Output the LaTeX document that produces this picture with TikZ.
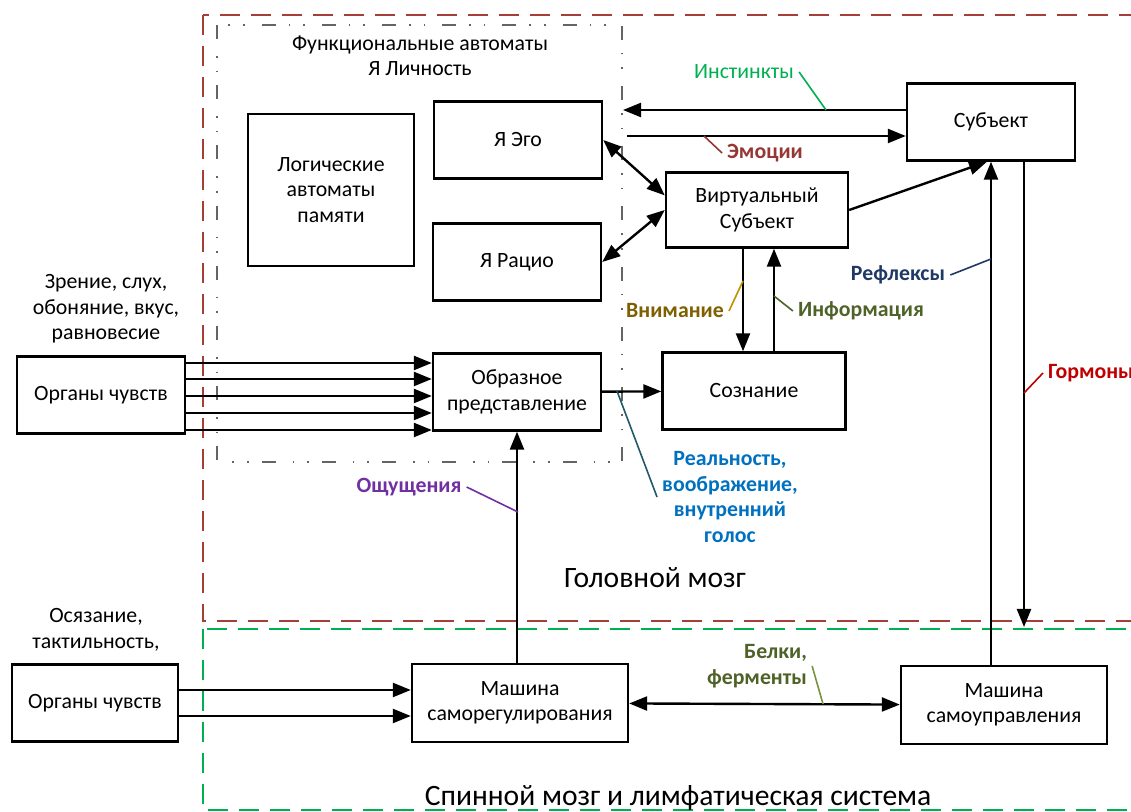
\documentclass[tikz,border=0pt]{standalone}
\usepackage{fontspec}
\setmainfont{Carlito}
\usetikzlibrary{arrows.meta}

\definecolor{brainred}{RGB}{166,62,56}
\definecolor{spinegreen}{RGB}{0,176,80}
\definecolor{autogray}{RGB}{100,100,100}
\definecolor{instcol}{RGB}{0,176,80}
\definecolor{emocol}{RGB}{149,55,53}
\definecolor{vnimcol}{RGB}{127,96,0}
\definecolor{vnimline}{RGB}{191,144,0}
\definecolor{infocol}{RGB}{79,98,40}
\definecolor{reflcol}{RGB}{31,56,100}
\definecolor{gormcol}{RGB}{192,0,0}
\definecolor{realcol}{RGB}{0,112,192}
\definecolor{realline}{RGB}{33,89,103}
\definecolor{oshcol}{RGB}{112,48,160}
\definecolor{belkline}{RGB}{119,147,60}

\begin{document}
\begin{tikzpicture}[x=0.5pt,y=-0.5pt,->,>={Triangle[length=9pt,width=7pt]},
	line width=1.2pt,
	main node/.style={rectangle,draw,align=center,minimum width=84pt,minimum height=38.5pt,
		font=\fontsize{10.9}{12.75}\selectfont},
	text node/.style={align=center,font=\fontsize{10.9}{12.75}\selectfont},
	label node/.style={align=center,inner sep=2pt,font=\fontsize{10.9}{12.75}\selectfont\bfseries},
	big node/.style={font=\fontsize{14.8}{17}\selectfont},
	lead/.style={-,line width=0.8pt}]
	
	\useasboundingbox (0,0) rectangle (1131,812);
	
	% frames
	\draw[-,brainred,line width=1.3pt,dash pattern=on 10pt off 5.5pt] (203,15) rectangle (1150,621);
	\draw[-,spinegreen,line width=1.3pt,dash pattern=on 10pt off 5.5pt] (203,629) rectangle (1150,810);
	\draw[-,autogray,line width=1pt,dash pattern=on 7pt off 8.5pt on 0.8pt off 6.5pt on 0.8pt off 6.5pt] (217,25) rectangle (622,462);
	
	\node[main node,minimum width=83pt,minimum height=76pt] (1) at (331,190) {Логические\\автоматы\\памяти};
	\node[main node] (2) at (518,140) {Я Эго};
	\node[main node] (3) at (517,262) {Я Рацио};
	\node[main node] (4) at (517,392) {Образное\\представление};
	\node[main node,minimum width=91pt,minimum height=37.5pt] (5) at (757,210) {Виртуальный\\Субъект};
	\node[main node,minimum width=91.5pt] (6) at (754,391) {Сознание};
	\node[main node] (7) at (991,122) {Субъект};
	\node[main node] (8) at (101,395) {Органы чувств};
	\node[main node,minimum width=83pt] (9) at (95,703) {Органы чувств};
	\node[main node,minimum width=108pt,minimum height=39pt] (10) at (520,703) {Машина\\саморегулирования};
	\node[main node,minimum width=103pt,minimum height=39pt] (11) at (1004,705) {Машина\\самоуправления};
	
	\node[text node] (t1) at (420,56) {Функциональные автоматы\\Я Личность};
	\node[text node] (t2) at (106,309) {Зрение, слух,\\обоняние, вкус,\\равновесие};
	\node[text node] (t3) at (96,630) {Осязание,\\тактильность,};
	\node[big node] (t4) at (655,578) {Головной мозг};
	\node[big node] (t5) at (678,798) {Спинной мозг и лимфатическая система};
	
	\coordinate (inst) at (623,110);
	\coordinate (emo) at (627,136);
	\coordinate (gorm) at (1024,627);
	
	\draw (inst -| 7.west) -- (inst);
	\draw (emo) -- (emo -| 7.west);
	\draw[<->] (2.east) -- (5.171);
	\draw[<->] (3.east) -- (5.west);
	\draw (5.east) -- ([xshift=-2pt]7.south);
	\draw ([xshift=-7pt]5.south) -- ([xshift=-7pt]5.south |- 6.north);
	\draw ([xshift=8.5pt]5.south |- 6.north) -- ([xshift=8.5pt]5.south);
	\draw (4) -- (6);
	\draw (7.south |- 11.north) -- (7.south);
	\draw (gorm |- 7.south) -- (gorm);
	\draw (4.south |- 10.north) -- (4.south);
	\draw[<->] (10) -- (11);
	\foreach \y in {363,379,396,413,430}
		\draw (8.east |- 0,\y) -- (4.west |- 0,\y);
	\foreach \y in {690,716}
		\draw (9.east |- 0,\y) -- (10.west |- 0,\y);
	
	% labels
	\node[label node,instcol,font=\fontsize{10.9}{12.75}\selectfont] (l1) at (744,72) {Инстинкты};
	\node[label node,emocol] (l2) at (765,153) {Эмоции};
	\node[label node,vnimcol] (l3) at (675,311) {Внимание};
	\node[label node,infocol] (l4) at (861,311) {Информация};
	\node[label node,reflcol] (l5) at (898,275) {Рефлексы};
	\node[label node,gormcol,anchor=west] (l6) at (1043,373) {Гормоны};
	\node[label node,realcol] (l7) at (730,497) {Реальность,\\воображение,\\внутренний\\голос};
	\node[label node,oshcol] (l8) at (409,487) {Ощущения};
	\node[label node,infocol,align=right] (l9) at (757,666) {Белки,\\ферменты};
	
	\coordinate (c1) at (826,110);
	\coordinate (c2) at (704,136);
	\coordinate (c3) at (743,281);
	\coordinate (c4) at (774,296);
	\coordinate (c5) at (991,259);
	\coordinate (c6) at (1024,393);
	\coordinate (c7) at (617,391);
	\coordinate (c8) at (518,512);
	\coordinate (c9) at (823,704);
	
	\draw[lead,instcol] (l1.east) -- (c1);
	\draw[lead,emocol] (l2.west) -- (c2);
	\draw[lead,vnimline] (l3.east) -- (c3);
	\draw[lead,infocol] (l4.west) -- (c4);
	\draw[lead,reflcol] (l5.east) -- (c5);
	\draw[lead,gormcol] (l6.west) -- (c6);
	\draw[lead,realline] (l7.west) -- (c7);
	\draw[lead,oshcol] (l8.east) -- (c8);
	\draw[lead,belkline] (l9.east) -- (c9);
\end{tikzpicture}
\end{document}
